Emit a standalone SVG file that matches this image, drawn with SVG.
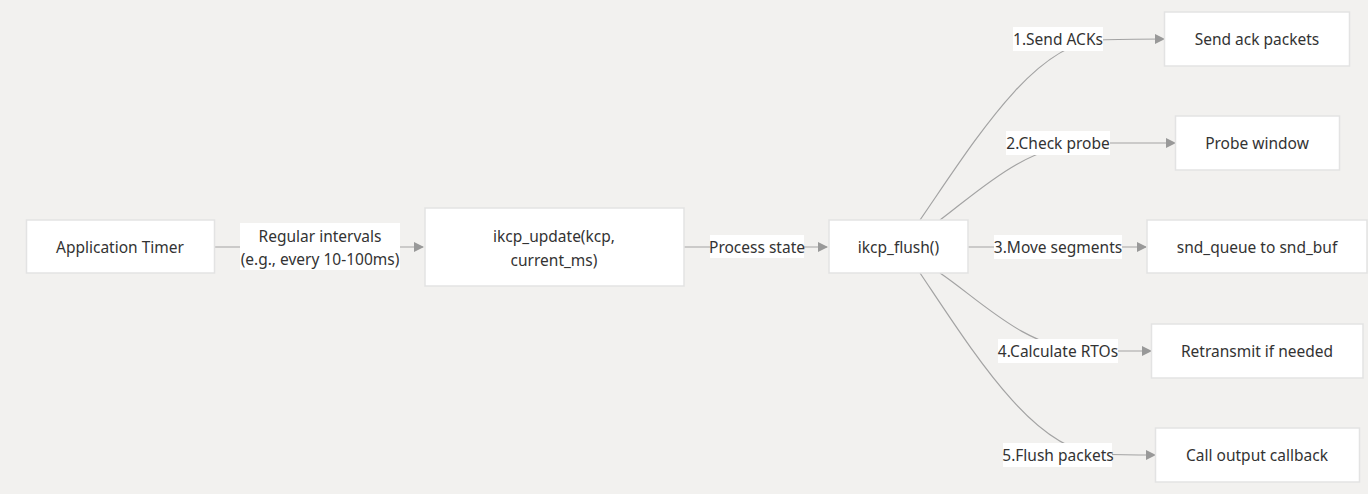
<svg xmlns="http://www.w3.org/2000/svg" width="1368" height="494" viewBox="0 0 1368 494">
<defs>
<marker id="arr" viewBox="0 0 10 10" refX="9" refY="5" markerWidth="10" markerHeight="10" markerUnits="userSpaceOnUse" orient="auto">
<path d="M0,0 L10,5 L0,10 z" fill="#999"/>
</marker>
</defs>
<style>
.node rect{fill:#fff;stroke:#e3e3e3;stroke-width:1.5}
text{font-family:"Noto Sans","Open Sans",sans-serif;font-size:15.5px;fill:#333;text-anchor:middle;dominant-baseline:central}
.edge path{fill:none;stroke:#a3a3a3;stroke-width:1.2}
.lbl rect{fill:#fff;stroke:none}
</style>
<rect width="1368" height="494" fill="#f2f1ef"/>
<g id="edges" class="edge">
<path d="M214,247 L423,247" marker-end="url(#arr)"/>
<path d="M684,247 L827,247" marker-end="url(#arr)"/>
<path d="M920,220 C975,140 1035,42 1100,40 C1120,39 1140,39 1164,39" marker-end="url(#arr)"/>
<path d="M940,220 C980,190 1025,146 1085,143 L1175,143" marker-end="url(#arr)"/>
<path d="M968,247 L1146,247" marker-end="url(#arr)"/>
<path d="M940,273 C980,300 1025,348 1085,351 L1151,351" marker-end="url(#arr)"/>
<path d="M920,273 C975,355 1035,452 1100,454 C1120,455 1140,455 1155,455" marker-end="url(#arr)"/>
</g>
<g id="edge-labels" class="lbl">
<g id="lbl-regular"><rect x="240" y="223" width="160" height="47"/><text x="320" y="236">Regular intervals</text><text x="320" y="259">(e.g., every 10-100ms)</text></g>
<g id="lbl-process"><rect x="710" y="235" width="94" height="23"/><text x="757" y="247">Process state</text></g>
<g id="lbl-1"><rect x="1013" y="27" width="90" height="24"/><text x="1058" y="39">1.Send ACKs</text></g>
<g id="lbl-2"><rect x="1006" y="131" width="104" height="24"/><text x="1058" y="143">2.Check probe</text></g>
<g id="lbl-3"><rect x="994" y="235" width="128" height="24"/><text x="1058" y="247">3.Move segments</text></g>
<g id="lbl-4"><rect x="998" y="339" width="120" height="24"/><text x="1058" y="351">4.Calculate RTOs</text></g>
<g id="lbl-5"><rect x="1003" y="443" width="109" height="24"/><text x="1058" y="455">5.Flush packets</text></g>
</g>
<g id="timer" class="node"><rect x="26.5" y="220" width="188" height="53"/><text x="120" y="247">Application Timer</text></g>
<g id="update" class="node"><rect x="425" y="208" width="259" height="78"/><text x="554" y="236">ikcp_update(kcp,</text><text x="554" y="260">current_ms)</text></g>
<g id="flush" class="node"><rect x="829" y="220" width="139" height="53"/><text x="898.5" y="247">ikcp_flush()</text></g>
<g id="ack" class="node"><rect x="1164.5" y="12" width="185" height="54"/><text x="1257" y="39">Send ack packets</text></g>
<g id="probe" class="node"><rect x="1175.5" y="116" width="164" height="54"/><text x="1257" y="143">Probe window</text></g>
<g id="queue" class="node"><rect x="1147" y="220" width="220" height="53"/><text x="1257" y="247">snd_queue to snd_buf</text></g>
<g id="retrans" class="node"><rect x="1151.5" y="324" width="211.5" height="54"/><text x="1257" y="351">Retransmit if needed</text></g>
<g id="output" class="node"><rect x="1155.5" y="428" width="204" height="54"/><text x="1257" y="455">Call output callback</text></g>
</svg>
